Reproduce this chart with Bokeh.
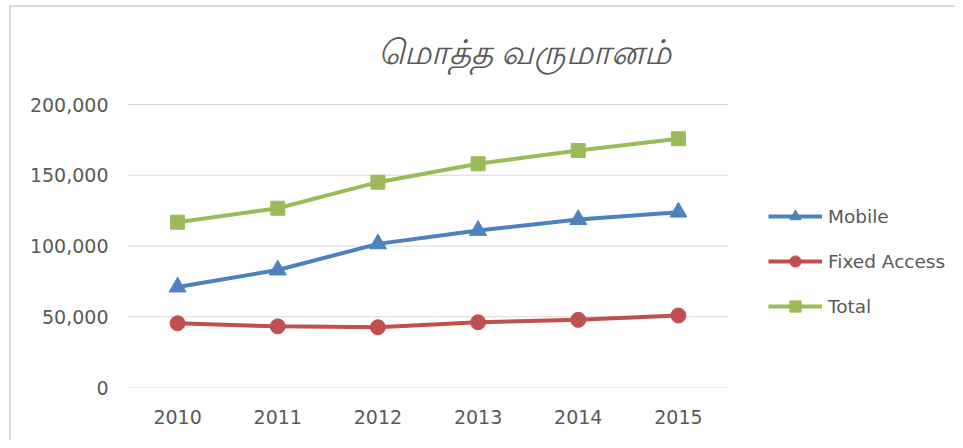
from bokeh.plotting import figure
from bokeh.models import (ColumnDataSource, FixedTicker, NumeralTickFormatter,
                          Legend, LegendItem, Label, Range1d)
from bokeh.embed import file_html
from bokeh.resources import INLINE

years = ["2010", "2011", "2012", "2013", "2014", "2015"]
mobile = [71000, 83000, 101500, 111000, 118700, 123900]
fixed_access = [45400, 43200, 42600, 46100, 47800, 50900]
total = [116800, 126700, 145100, 158100, 167500, 175800]
y_ticks = [0, 50000, 100000, 150000, 200000]
title_text = "மொத்த வருமானம்"
series_names = ["Mobile", "Fixed Access", "Total"]

xpos = list(range(len(years)))
src = ColumnDataSource(dict(x=xpos, mobile=mobile, fixed=fixed_access, total=total))

# layout (pixels)
W, H = 955, 440
ML, MR, MT, MB = 127, 3, 7, 53
cat_px = 601 / len(years)          # width of one category slot
val_px = 283 / y_ticks[-1]         # pixels per unit on y
frame_w = W - ML - MR
frame_h = H - MT - MB
x_end = -0.5 + frame_w / cat_px
y_end = frame_h / val_px

p = figure(width=W, height=H, x_range=Range1d(-0.5, x_end), y_range=Range1d(0, y_end),
           output_backend="svg", toolbar_location=None,
           min_border_left=ML, min_border_right=MR, min_border_top=MT, min_border_bottom=MB)
p.styles = {
    "background": ("linear-gradient(#d9d9d9, #d9d9d9) 9px 5px / 2px 100% no-repeat, "
                   "linear-gradient(#d9d9d9, #d9d9d9) 9px 5px / 100% 2px no-repeat, white"),
}
p.outline_line_color = None
p.background_fill_alpha = 0
p.border_fill_alpha = 0

font = "DejaVu Sans"
grey = "#595959"

p.yaxis.ticker = FixedTicker(ticks=y_ticks)
p.yaxis.formatter = NumeralTickFormatter(format="0,0")
p.xaxis.ticker = FixedTicker(ticks=xpos)
p.xaxis.major_label_overrides = {i: y for i, y in zip(xpos, years)}
for ax in (p.xaxis, p.yaxis):
    ax.axis_line_color = None
    ax.major_tick_line_color = None
    ax.minor_tick_line_color = None
    ax.major_tick_out = 0
    ax.major_tick_in = 0
    ax.major_label_text_font = font
    ax.major_label_text_font_size = "19px"
    ax.major_label_text_color = grey
p.yaxis.major_label_standoff = 19
p.xaxis.major_label_standoff = 22

# horizontal gridlines, limited to the category area
p.xgrid.grid_line_color = None
p.ygrid.grid_line_color = None
n = len(y_ticks)
p.segment(x0=[-0.5] * n, x1=[len(years) - 0.5] * n, y0=y_ticks, y1=y_ticks,
          line_color="#d9d9d9", line_width=1)

colors = ["#4f81bd", "#c0504d", "#9bbb59"]
cols = ["mobile", "fixed", "total"]
markers = ["triangle", "circle", "square"]
sizes = [17, 15, 14]
items = []
for name, col, c, m, s in zip(series_names, cols, colors, markers, sizes):
    l = p.line("x", col, source=src, line_color=c, line_width=4)
    sc = p.scatter("x", col, source=src, marker=m, size=s, fill_color=c, line_color=c)
    items.append(LegendItem(label=name, renderers=[l, sc]))

legend = Legend(items=items, location=(641, 67), orientation="vertical",
                glyph_width=54, glyph_height=28, label_height=28, spacing=17,
                padding=0, margin=0, border_line_color=None, background_fill_alpha=0,
                label_text_font=font, label_text_font_size="18.5px", label_text_color=grey,
                label_standoff=6)
p.add_layout(legend)

title = Label(x=397, y=337, x_units="screen", y_units="screen", text=title_text,
              text_align="center", text_baseline="middle", text_font="Noto Sans",
              text_font_style="italic", text_font_size="34px", text_color=grey)
p.add_layout(title)

open("out.html", "w").write(file_html(p, INLINE))
